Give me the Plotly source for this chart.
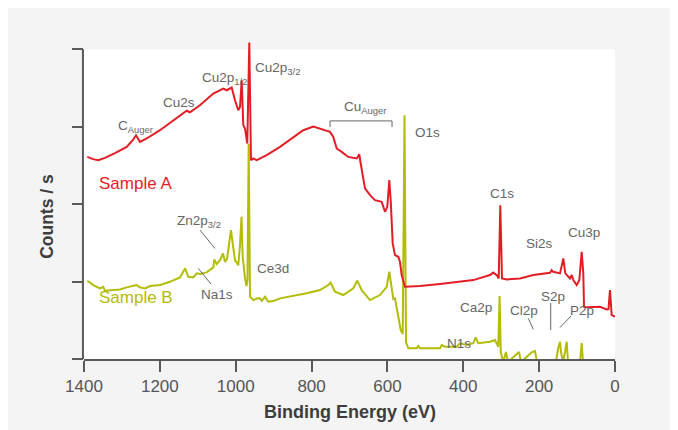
import plotly.graph_objects as go

# ---------------- data ----------------
# Sample A (red) : binding energy (eV) and counts (arbitrary units, tick spacing = 1)
be_a = [1391.3, 1376.3, 1362.3, 1344.6, 1318.3, 1287.4, 1271.6, 1262.9, 1252.3, 1234.7,
        1199.6, 1164.6, 1129.2, 1120.6, 1094.3, 1059.1, 1032.7, 1023.8, 1010.6, 1001.9,
        993.2, 988.7, 984.2, 980.0, 975.5, 969.5, 964.2, 959.7, 953.6, 944.7,
        918.3, 883.2, 848.2, 821.8, 795.4, 769.1, 751.4, 742.7, 733.7, 720.6,
        703.2, 681.0, 674.2, 670.5, 663.6, 659.1, 645.9, 632.8, 615.1, 606.4,
        600.3, 595.1, 591.4, 586.1, 580.0, 571.3, 566.8, 562.4, 553.7, 540.5,
        514.1, 461.4, 373.6, 329.6, 320.9, 311.9, 306.6, 302.4, 297.9, 285.5,
        250.5, 215.4, 171.4, 166.9, 162.7, 145.0, 136.3, 131.0, 118.6, 114.2,
        109.9, 101.0, 94.1, 87.8, 83.6, 81.7, 74.6, 39.5, 30.8, 21.9,
        17.1, 13.2, 8.7, 0.0]
counts_a = [2.610, 2.581, 2.568, 2.597, 2.658, 2.739, 2.826, 2.890, 2.804, 2.848,
            2.955, 3.084, 3.206, 3.187, 3.277, 3.428, 3.493, 3.471, 3.506, 3.342,
            3.213, 3.255, 3.600, 3.019, 2.977, 2.783, 4.086, 2.568, 2.590, 2.568,
            2.632, 2.739, 2.868, 2.955, 3.003, 2.964, 2.933, 2.868, 2.719, 2.675,
            2.610, 2.590, 2.645, 2.525, 2.352, 2.203, 2.116, 2.052, 2.030, 1.901,
            1.965, 2.310, 2.052, 1.493, 1.342, 1.320, 1.252, 1.084, 0.933, 0.933,
            0.942, 0.968, 1.019, 1.084, 1.116, 1.084, 1.041, 1.987, 1.041, 1.028,
            1.041, 1.084, 1.114, 1.148, 1.126, 1.106, 1.299, 1.106, 1.041, 1.084,
            1.019, 0.955, 1.019, 1.385, 1.106, 0.675, 0.667, 0.675, 0.654, 0.641,
            0.645, 0.890, 0.568, 0.546]

# Sample B (yellow-green)
be_b = [1391.3, 1375.5, 1357.8, 1349.1, 1344.6, 1331.4, 1305.1, 1287.4, 1261.1, 1252.3,
        1239.1, 1226.0, 1199.6, 1173.3, 1146.9, 1133.7, 1125.0, 1111.8, 1102.9, 1094.1,
        1076.5, 1059.1, 1056.5, 1050.1, 1041.4, 1033.5, 1028.3, 1023.0, 1016.9, 1012.4,
        1008.0, 1001.9, 993.2, 988.7, 984.8, 981.6, 975.5, 971.6, 969.0, 965.8,
        962.3, 953.6, 944.7, 936.0, 931.5, 922.8, 914.1, 900.9, 883.2, 856.9,
        812.8, 777.8, 755.9, 750.1, 738.3, 716.3, 690.0, 679.4, 667.8, 645.9,
        619.6, 601.9, 595.1, 588.7, 584.5, 580.0, 571.3, 565.0, 559.7, 555.0,
        551.0, 544.9, 522.8, 518.6, 514.1, 461.4, 456.9, 448.2, 417.4, 408.7,
        391.0, 373.6, 367.3, 360.4, 329.6, 316.4, 307.7, 304.3, 301.2, 295.3,
        287.4, 282.1, 253.1, 247.8, 218.8, 210.9, 205.6, 155.6, 150.3, 145.0,
        142.4, 137.1, 131.8, 127.3, 123.9, 92.3, 87.8, 84.4, 0.0]
counts_b = [1.010, 0.955, 0.912, 0.933, 0.881, 0.890, 0.899, 0.925, 0.955, 0.925,
            0.912, 0.942, 0.955, 0.997, 1.054, 1.170, 1.062, 1.054, 1.106, 1.097,
            1.119, 1.183, 1.284, 1.226, 1.277, 1.364, 1.255, 1.290, 1.493, 1.665,
            1.493, 1.277, 1.213, 1.471, 1.836, 1.320, 1.045, 0.942, 1.019, 2.781,
            0.804, 0.761, 0.781, 0.783, 0.752, 0.804, 0.739, 0.748, 0.783, 0.804,
            0.848, 0.890, 0.955, 0.987, 0.868, 0.826, 0.912, 1.013, 0.890, 0.761,
            0.826, 0.933, 1.129, 0.916, 0.774, 0.783, 0.546, 0.374, 0.323, 3.148,
            0.219, 0.138, 0.138, 0.168, 0.138, 0.138, 0.181, 0.159, 0.159, 0.203,
            0.181, 0.203, 0.280, 0.203, 0.223, 0.245, 0.159, 0.813, 0.090, -0.039,
            0.090, -0.039, 0.090, -0.039, 0.090, 0.103, -0.039, -0.039, 0.129, 0.223,
            0.090, -0.039, 0.090, 0.223, -0.039, -0.039, 0.206, -0.039, -0.039]

x_ticks = [1400, 1200, 1000, 800, 600, 400, 200, 0]
y_ticks = [0, 1, 2, 3, 4]

# peak labels: (text, binding energy of left edge, counts of text centre)
peak_labels = [
    ("C<sub>Auger</sub>", 1315.6, 3.00),
    ("Cu2s", 1197.0, 3.316),
    ("Cu2p<sub>1/2</sub>", 1094.1, 3.62),
    ("Cu2p<sub>3/2</sub>", 954.4, 3.75),
    ("Cu<sub>Auger</sub>", 719.8, 3.25),
    ("O1s", 532.6, 2.929),
    ("C1s", 334.8, 2.142),
    ("Si2s", 239.9, 1.497),
    ("Cu3p", 129.2, 1.639),
    ("Ca2p", 413.9, 0.665),
    ("Cl2p", 282.1, 0.626),
    ("S2p", 200.4, 0.804),
    ("P2p", 123.9, 0.632),
    ("N1s", 448.2, 0.194),
    ("Zn2p<sub>3/2</sub>", 1160.1, 1.78),
    ("Na1s", 1095.5, 0.839),
    ("Ce3d", 949.1, 1.168),
]
# leader lines: (be0, c0, be1, c1)
leaders = [
    (1094.1, 1.665, 1054.7, 1.428),   # Zn2p3/2
    (1098.6, 1.170, 1065.2, 0.968),   # Na1s
    (228.6, 0.525, 215.4, 0.383),     # Cl2p
    (169.5, 0.723, 169.5, 0.374),     # S2p
    (116.0, 0.555, 145.0, 0.406),     # P2p
]
bracket = (751.4, 587.9, 3.075, 2.994)  # Cu Auger bracket: be_left, be_right, top, tips

RED = "#e31d25"
YEL = "#b3bc06"
AX = "#5a5a5a"
LBL = "#666666"
BG = "#f4f4f4"
FONT = "Liberation Sans, Arial, Helvetica, sans-serif"

Y_TOP = 4.12  # a little head-room so the Cu2p3/2 spike pokes above the white panel

fig = go.Figure()
fig.add_trace(go.Scatter(x=be_b, y=counts_b, mode="lines", name="Sample B",
                         line=dict(color=YEL, width=2), hoverinfo="skip"))
fig.add_trace(go.Scatter(x=be_a, y=counts_a, mode="lines", name="Sample A",
                         line=dict(color=RED, width=2), hoverinfo="skip"))

ann = []
for txt, bx, cy in peak_labels:
    ann.append(dict(x=bx, y=cy, xref="x", yref="y", text=txt, showarrow=False,
                    xanchor="left", yanchor="middle",
                    font=dict(family=FONT, size=13.5, color=LBL)))
ann.append(dict(x=1365.7, y=2.271, xref="x", yref="y", text="Sample A", showarrow=False,
                xanchor="left", yanchor="middle", font=dict(family=FONT, size=17, color=RED)))
ann.append(dict(x=1365.7, y=0.80, xref="x", yref="y", text="Sample B", showarrow=False,
                xanchor="left", yanchor="middle", font=dict(family=FONT, size=17, color=YEL)))
# axis titles
ann.append(dict(x=0.5, y=-53 / 310 * 4 / Y_TOP, xref="paper", yref="paper",
                text="<b>Binding Energy (eV)</b>",
                showarrow=False, xanchor="center", yanchor="middle",
                font=dict(family=FONT, size=18, color="#3d3d3d")))
ann.append(dict(x=-0.071, y=0.46 * 4 / Y_TOP, xref="paper", yref="paper", text="<b>Counts / s</b>",
                showarrow=False, textangle=-90, xanchor="center", yanchor="middle",
                font=dict(family=FONT, size=17.5, color="#3d3d3d")))

shapes = []
# white plotting panel (0..4) and the y-axis line
shapes.append(dict(type="rect", xref="x", yref="y", x0=1400, x1=0, y0=0, y1=4,
                   fillcolor="white", line=dict(width=0), layer="below"))
shapes.append(dict(type="line", xref="paper", yref="y", x0=-0.002, x1=-0.002, y0=0, y1=4,
                   line=dict(color=AX, width=2)))
for b0, c0, b1, c1 in leaders:
    shapes.append(dict(type="line", xref="x", yref="y", x0=b0, y0=c0, x1=b1, y1=c1,
                       line=dict(color=LBL, width=1)))
bl, br, top, tip = bracket
shapes.append(dict(type="path", xref="x", yref="y",
                   path=f"M {bl},{tip} L {bl},{top} L {br},{top} L {br},{tip}",
                   line=dict(color=LBL, width=1)))

# page body adds an 8px margin -> figure is 670x422, placed at (8, 8)
fig.update_layout(
    width=670, height=422,
    margin=dict(l=76, r=63, t=32, b=71),
    paper_bgcolor=BG,
    plot_bgcolor=BG,
    showlegend=False,
    annotations=ann,
    shapes=shapes,
    font=dict(family=FONT),
)
fig.update_xaxes(range=[1400, 0], tickvals=x_ticks, ticktext=[str(v) for v in x_ticks],
                 showgrid=False, zeroline=False, showline=True, linecolor=AX, linewidth=2,
                 ticks="outside", ticklen=11, tickwidth=2, tickcolor=AX,
                 tickfont=dict(family=FONT, size=17, color="#555555"))
fig.update_yaxes(range=[0, Y_TOP], tickvals=y_ticks, showticklabels=False,
                 showgrid=False, zeroline=False, showline=False,
                 ticks="outside", ticklen=11, tickwidth=2, tickcolor=AX)

fig.write_html("out.html")
